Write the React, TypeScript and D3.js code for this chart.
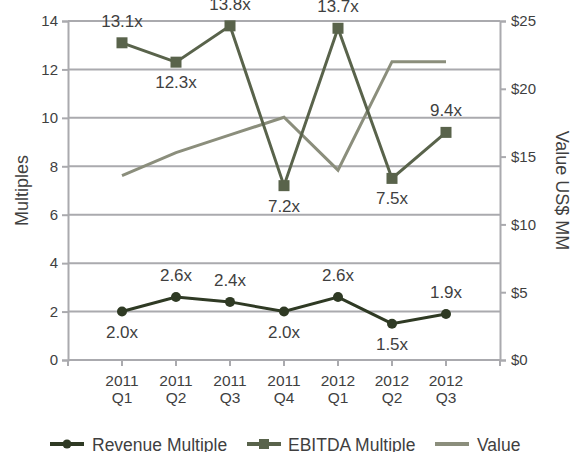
import { useEffect, useRef } from "react";
import * as d3 from "d3";

// Categorias e séries
const trimestres = ["2011 Q1", "2011 Q2", "2011 Q3", "2011 Q4", "2012 Q1", "2012 Q2", "2012 Q3"];
const revenueMultiple = [2.0, 2.6, 2.4, 2.0, 2.6, 1.5, 1.9];
const ebitdaMultiple = [13.1, 12.3, 13.8, 7.2, 13.7, 7.5, 9.4];
const valueMM = [13.6, 15.3, 16.6, 17.9, 14.0, 22.0, 22.0];

// Posição dos rótulos: acima (-1) ou abaixo (1)
const revenueLabelSide = [1, -1, -1, 1, -1, 1, -1];
const ebitdaLabelSide = [-1, 1, -1, 1, -1, 1, -1];

const leftTicks = [0, 2, 4, 6, 8, 10, 12, 14];
const rightTicks = [0, 5, 10, 15, 20, 25];

const CORES = {
  revenue: "#2f3a24",
  ebitda: "#59634b",
  value: "#8b8e7c",
  grid: "#aaaaae",
  texto: "#3f3f3f",
};

const WIDTH = 574;
const HEIGHT = 452;
const FONT = "'Liberation Sans', Arial, sans-serif";

const App = () => {
  const svgRef = useRef<SVGSVGElement>(null);

  useEffect(() => {
    if (!svgRef.current) return;
    const svg = d3.select(svgRef.current);
    svg.selectAll("*").remove();

    const margin = { top: 21, right: 74, bottom: 92, left: 68 };
    const x0 = margin.left;
    const x1 = WIDTH - margin.right;
    const y0 = HEIGHT - margin.bottom;
    const y1 = margin.top;

    const xScale = d3.scalePoint<string>().domain(trimestres).range([x0, x1]).padding(1);
    const yLeft = d3.scaleLinear().domain([0, 14]).range([y0, y1]);
    const yRight = d3.scaleLinear().domain([0, 25]).range([y0, y1]);

    const g = svg.append("g").style("font-family", FONT);

    // Grade horizontal
    g.append("g")
      .selectAll("line")
      .data(leftTicks.filter((d) => d > 0))
      .enter()
      .append("line")
      .attr("x1", x0)
      .attr("x2", x1)
      .attr("y1", (d) => yLeft(d))
      .attr("y2", (d) => yLeft(d))
      .attr("stroke", CORES.grid)
      .attr("stroke-width", 2);

    // Eixo esquerdo
    const eixoEsq = d3.axisLeft(yLeft).tickValues(leftTicks).tickSize(6).tickPadding(4);
    const gEsq = g.append("g").attr("transform", `translate(${x0},0)`).call(eixoEsq);

    // Eixo direito
    const eixoDir = d3
      .axisRight(yRight)
      .tickValues(rightTicks)
      .tickSize(6)
      .tickPadding(5)
      .tickFormat((d) => `$${d}`);
    const gDir = g.append("g").attr("transform", `translate(${x1},0)`).call(eixoDir);

    // Eixo inferior (marcas nas extremidades e em cada trimestre)
    const bottomTicks = [x0, ...trimestres.map((t) => xScale(t) as number), x1];
    const gBase = g.append("g");
    gBase
      .append("line")
      .attr("x1", x0)
      .attr("x2", x1)
      .attr("y1", y0)
      .attr("y2", y0)
      .attr("stroke", CORES.grid)
      .attr("stroke-width", 2);
    gBase
      .selectAll("line.tick")
      .data(bottomTicks)
      .enter()
      .append("line")
      .attr("class", "tick")
      .attr("x1", (d) => d)
      .attr("x2", (d) => d)
      .attr("y1", y0)
      .attr("y2", y0 + 6)
      .attr("stroke", CORES.grid)
      .attr("stroke-width", 2);

    const rotulosX = gBase
      .selectAll("text")
      .data(trimestres)
      .enter()
      .append("text")
      .attr("x", (d) => xScale(d) as number)
      .attr("y", y0 + 26)
      .attr("text-anchor", "middle")
      .attr("fill", CORES.texto)
      .style("font-size", "15.5px");
    rotulosX
      .append("tspan")
      .attr("x", (d) => xScale(d) as number)
      .text((d) => d.split(" ")[0]);
    rotulosX
      .append("tspan")
      .attr("x", (d) => xScale(d) as number)
      .attr("dy", "1.1em")
      .text((d) => d.split(" ")[1]);

    [gEsq, gDir].forEach((ax) => {
      ax.select(".domain").attr("stroke", CORES.grid).attr("stroke-width", 2);
      ax.selectAll(".tick line").attr("stroke", CORES.grid).attr("stroke-width", 2);
      ax.selectAll(".tick text")
        .attr("fill", CORES.texto)
        .style("font-size", "15px")
        .style("font-family", FONT);
    });

    // Títulos dos eixos
    g.append("text")
      .attr("transform", `translate(22,${(y0 + y1) / 2}) rotate(-90)`)
      .attr("text-anchor", "middle")
      .attr("dy", "0.35em")
      .attr("fill", CORES.texto)
      .style("font-size", "18px")
      .text("Multiples");
    g.append("text")
      .attr("transform", `translate(562,${(y0 + y1) / 2}) rotate(90)`)
      .attr("text-anchor", "middle")
      .attr("dy", "0.35em")
      .attr("fill", CORES.texto)
      .style("font-size", "18px")
      .text("Value US$ MM");

    // Linha de valor
    const linhaValor = d3
      .line<number>()
      .x((_, i) => xScale(trimestres[i]) as number)
      .y((d) => yRight(d));
    g.append("path")
      .datum(valueMM)
      .attr("fill", "none")
      .attr("stroke", CORES.value)
      .attr("stroke-width", 3)
      .attr("d", linhaValor);

    const linhaMult = d3
      .line<number>()
      .x((_, i) => xScale(trimestres[i]) as number)
      .y((d) => yLeft(d));

    // EBITDA
    g.append("path")
      .datum(ebitdaMultiple)
      .attr("fill", "none")
      .attr("stroke", CORES.ebitda)
      .attr("stroke-width", 3)
      .attr("d", linhaMult);
    g.append("g")
      .selectAll("rect")
      .data(ebitdaMultiple)
      .enter()
      .append("rect")
      .attr("x", (_, i) => (xScale(trimestres[i]) as number) - 5.5)
      .attr("y", (d) => yLeft(d) - 5.5)
      .attr("width", 11)
      .attr("height", 11)
      .attr("fill", CORES.ebitda);

    // Receita
    g.append("path")
      .datum(revenueMultiple)
      .attr("fill", "none")
      .attr("stroke", CORES.revenue)
      .attr("stroke-width", 3)
      .attr("d", linhaMult);
    g.append("g")
      .selectAll("circle")
      .data(revenueMultiple)
      .enter()
      .append("circle")
      .attr("cx", (_, i) => xScale(trimestres[i]) as number)
      .attr("cy", (d) => yLeft(d))
      .attr("r", 5)
      .attr("fill", CORES.revenue);

    // Rótulos de dados
    const rotulos = (valores: number[], lados: number[]) => {
      g.append("g")
        .selectAll("text")
        .data(valores)
        .enter()
        .append("text")
        .attr("x", (_, i) => xScale(trimestres[i]) as number)
        .attr("y", (d, i) => yLeft(d) + (lados[i] < 0 ? -22 : 20))
        .attr("dy", "0.35em")
        .attr("text-anchor", "middle")
        .attr("fill", CORES.texto)
        .style("font-size", "17px")
        .text((d) => `${d.toFixed(1)}x`);
    };
    rotulos(ebitdaMultiple, ebitdaLabelSide);
    rotulos(revenueMultiple, revenueLabelSide);

    // Legenda
    const legenda = [
      { nome: "Revenue Multiple", cor: CORES.revenue, marca: "circle", x: 50 },
      { nome: "EBITDA Multiple", cor: CORES.ebitda, marca: "rect", x: 247 },
      { nome: "Value", cor: CORES.value, marca: "none", x: 435 },
    ];
    const ly = 444;
    legenda.forEach((item) => {
      const lg = g.append("g");
      lg.append("line")
        .attr("x1", item.x)
        .attr("x2", item.x + 34)
        .attr("y1", ly)
        .attr("y2", ly)
        .attr("stroke", item.cor)
        .attr("stroke-width", 4);
      if (item.marca === "circle") {
        lg.append("circle").attr("cx", item.x + 17).attr("cy", ly).attr("r", 4.5).attr("fill", item.cor);
      } else if (item.marca === "rect") {
        lg.append("rect")
          .attr("x", item.x + 12)
          .attr("y", ly - 5)
          .attr("width", 10)
          .attr("height", 10)
          .attr("fill", item.cor);
      }
      lg.append("text")
        .attr("x", item.x + (item.marca === "rect" ? 41 : 42))
        .attr("y", ly + 1)
        .attr("dy", "0.35em")
        .attr("fill", CORES.texto)
        .style("font-size", "17.5px")
        .text(item.nome);
    });
  }, []);

  return (
    <svg
      ref={svgRef}
      width={WIDTH}
      height={HEIGHT}
      style={{ position: "absolute", left: 0, top: 0, background: "#fff" }}
    />
  );
};

export default App;
